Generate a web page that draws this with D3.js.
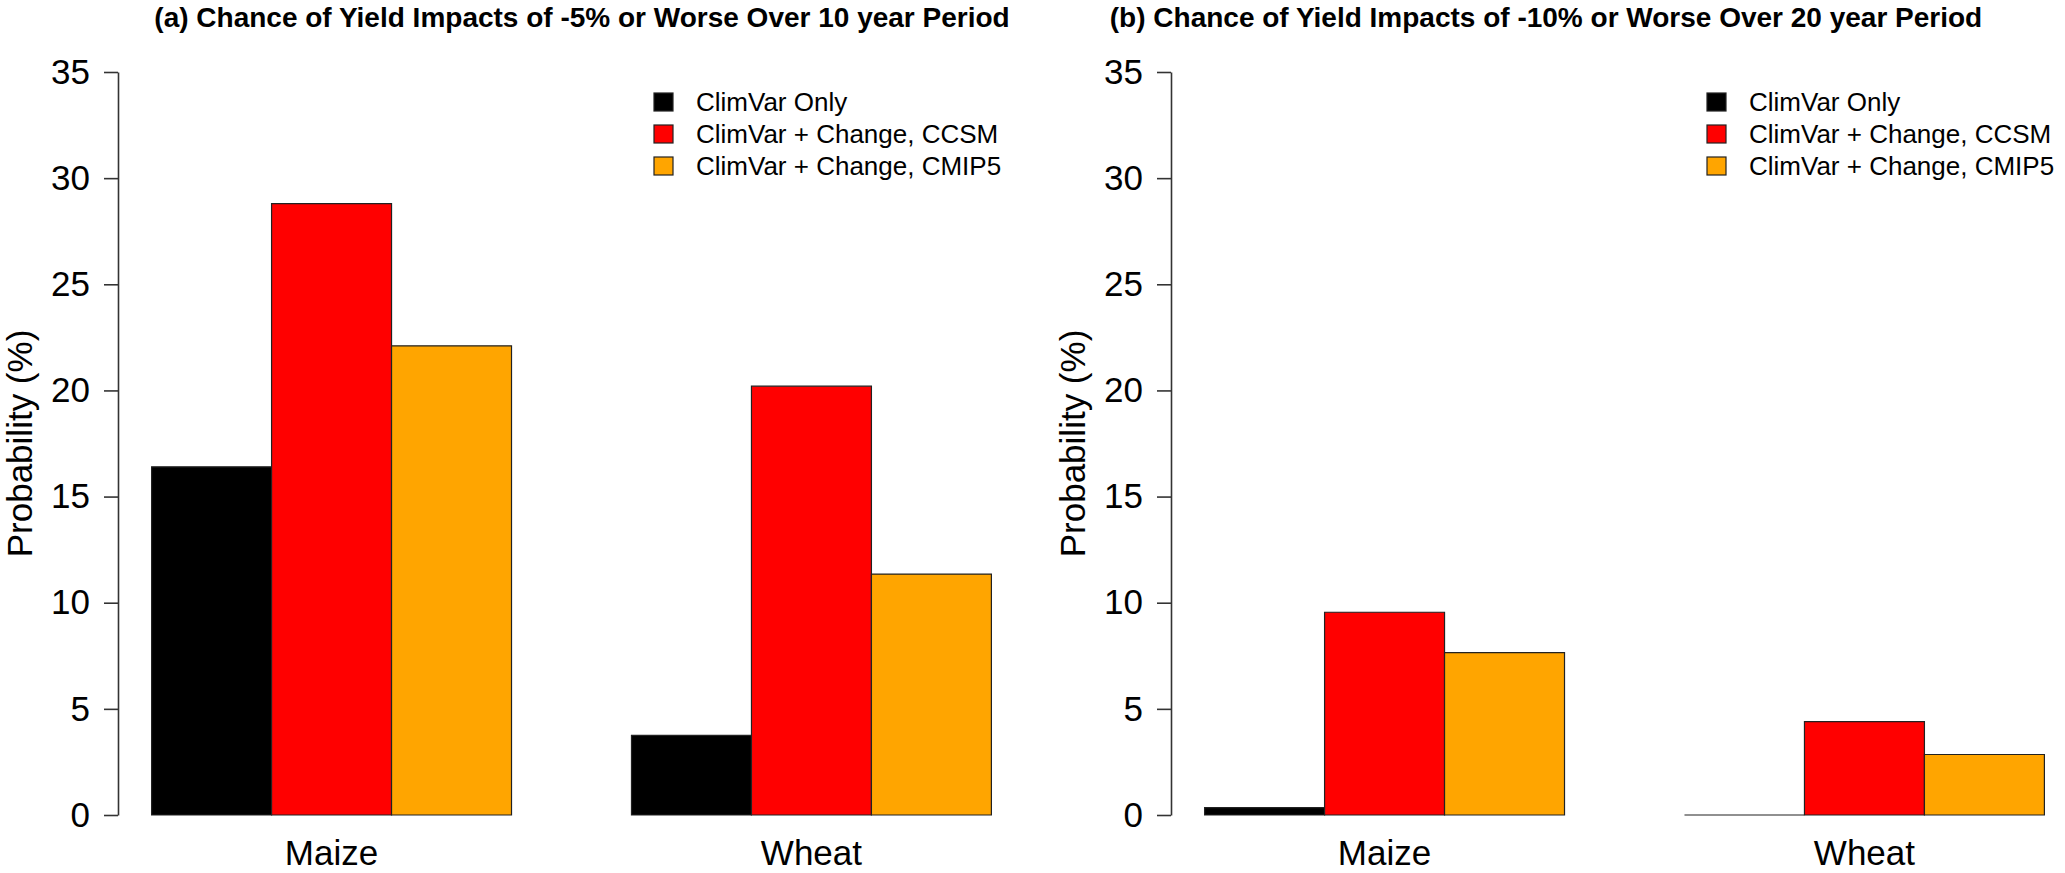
<!DOCTYPE html>
<html>
<head>
<meta charset="utf-8">
<script src="https://cdn.jsdelivr.net/npm/d3@7"></script>
<style>
  html, body { margin: 0; padding: 0; background: #fff; }
  text { font-family: "Liberation Sans", Arial, sans-serif; }
</style>
</head>
<body>
<svg id="chart" width="2065" height="873"></svg>
<script>
// crops on the x axis, one group of bars each
const crops = ["Maize", "Wheat"];
const seriesNames = ["ClimVar Only", "ClimVar + Change, CCSM", "ClimVar + Change, CMIP5"];
const seriesColors = ["#000000", "#ff0000", "#ffa500"];
const panelTitles = [
  "(a) Chance of Yield Impacts of -5% or Worse Over 10 year Period",
  "(b) Chance of Yield Impacts of -10% or Worse Over 20 year Period"
];
// probability (%) per crop, one value per series
const impact5pct10yr = [[16.4, 28.8, 22.1], [3.75, 20.2, 11.35]];
const impact10pct20yr = [[0.35, 9.55, 7.65], [0, 4.4, 2.85]];
const yTicks = [0, 5, 10, 15, 20, 25, 30, 35];

const svg = d3.select("#chart");

// barplot-style units: group g, bar k spans [1 + 4g + k, 2 + 4g + k]
const panels = [
  { left: 118, titleX: 582, values: impact5pct10yr, title: panelTitles[0] },
  { left: 1171, titleX: 1546, values: impact10pct20yr, title: panelTitles[1] }
];

const y = d3.scaleLinear().domain([0, 35]).range([815, 72]);

panels.forEach(function (p) {
  const x = d3.scaleLinear().domain([0.72, 8.28]).range([p.left, p.left + 907]);
  const g = svg.append("g");

  const bars = [];
  p.values.forEach(function (row, gi) {
    row.forEach(function (v, k) {
      bars.push({ group: gi, series: k, value: v, x0: 1 + 4 * gi + k });
    });
  });

  // paths so that a zero-height bar still shows its outline
  g.selectAll("path.bar").data(bars).enter().append("path")
    .attr("class", "bar")
    .attr("d", function (d) {
      const x0 = x(d.x0), x1 = x(d.x0 + 1), y0 = y(0), y1 = y(d.value);
      return "M" + x0 + "," + y0 + "H" + x1 + "V" + y1 + "H" + x0 + "Z";
    })
    .style("fill", function (d) { return seriesColors[d.series]; })
    .style("stroke", "#222")
    .style("stroke-width", 1.2);

  // y axis
  const axis = g.append("g")
    .attr("transform", "translate(" + p.left + ",0)")
    .call(d3.axisLeft(y).tickValues(yTicks).tickSize(14).tickSizeOuter(0).tickPadding(14));
  axis.select(".domain").style("stroke", "#333").style("stroke-width", 1.6);
  axis.selectAll(".tick line").style("stroke", "#333").style("stroke-width", 1.6);
  axis.selectAll(".tick text")
    .style("font-size", "35px")
    .style("font-family", "Liberation Sans, Arial, sans-serif")
    .style("fill", "#000");

  g.append("text")
    .attr("transform", "translate(" + (p.left - 98) + "," + y(17.5) + ")rotate(-90)")
    .attr("text-anchor", "middle")
    .attr("dy", "0.35em")
    .style("font-size", "35px")
    .text("Probability (%)");

  // crop labels under each group
  g.selectAll("text.crop").data(crops).enter().append("text")
    .attr("class", "crop")
    .attr("x", function (d, i) { return x(2.5 + 4 * i); })
    .attr("y", 865)
    .attr("text-anchor", "middle")
    .style("font-size", "35px")
    .text(function (d) { return d; });

  g.append("text")
    .attr("x", p.titleX)
    .attr("y", 27)
    .attr("text-anchor", "middle")
    .style("font-size", "28px")
    .style("font-weight", "bold")
    .text(p.title);

  // legend
  const lg = g.selectAll("g.legend").data(seriesNames).enter().append("g")
    .attr("class", "legend")
    .attr("transform", function (d, i) { return "translate(" + (p.left + 536) + "," + (102 + 32 * i) + ")"; });
  lg.append("rect")
    .attr("x", 0).attr("y", -9).attr("width", 19).attr("height", 18)
    .style("fill", function (d, i) { return seriesColors[i]; })
    .style("stroke", "#222").style("stroke-width", 1.2);
  lg.append("text")
    .attr("x", 42).attr("dy", "0.35em")
    .style("font-size", "26px")
    .text(function (d) { return d; });
});
</script>
</body>
</html>
